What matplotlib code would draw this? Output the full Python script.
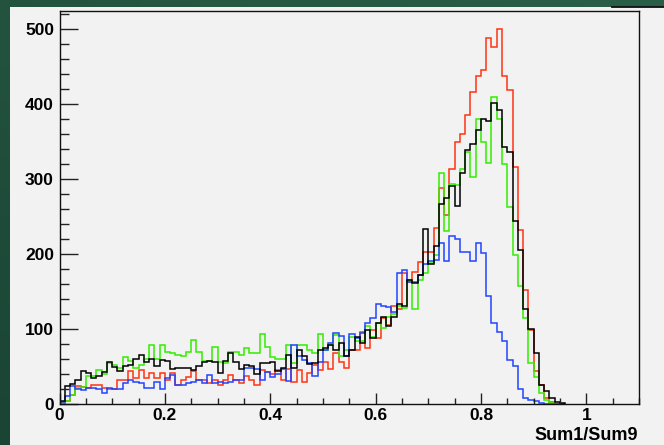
import numpy as np
import matplotlib
matplotlib.use("Agg")
import matplotlib.pyplot as plt
from matplotlib.ticker import MultipleLocator
from matplotlib.lines import Line2D
from matplotlib.patches import Rectangle

# Histogram contents, 0.01-wide bins starting at 0
bin_width = 0.01
counts_red = [0, 4, 12, 23, 22, 21, 25, 25, 21, 20, 20, 32, 32, 43, 34, 45, 34, 41, 34, 41,
              32, 41, 25, 31, 35, 44, 32, 31, 27, 31, 25, 31, 38, 31, 27, 37, 31, 25, 45, 42,
              40, 45, 31, 46, 29, 45, 29, 41, 51, 45, 56, 46, 68, 55, 47, 72, 71, 96, 74, 98,
              87, 114, 105, 130, 126, 174, 162, 176, 189, 202, 202, 235, 288, 252, 313, 349, 360, 386, 416, 438,
              445, 488, 476, 500, 438, 419, 316, 232, 152, 98, 44, 25, 8, 2, 0, 0]
counts_green = [2, 4, 12, 21, 22, 37, 37, 45, 39, 54, 51, 47, 62, 57, 47, 51, 59, 78, 60, 78,
                69, 68, 65, 63, 69, 85, 69, 57, 57, 75, 56, 54, 69, 69, 65, 74, 68, 68, 93, 76,
                62, 60, 59, 78, 54, 78, 78, 71, 68, 93, 71, 78, 92, 63, 71, 89, 83, 84, 103, 89,
                107, 101, 116, 120, 130, 127, 165, 126, 165, 175, 188, 199, 308, 231, 293, 292, 313, 336, 302, 380,
                350, 321, 409, 380, 320, 262, 199, 157, 114, 54, 36, 14, 5, 1, 0, 0]
counts_blue = [2, 10, 23, 20, 18, 21, 21, 19, 14, 21, 20, 19, 27, 32, 29, 28, 21, 21, 29, 20,
               34, 38, 25, 25, 27, 29, 31, 28, 38, 27, 29, 28, 29, 32, 31, 47, 48, 46, 31, 42,
               36, 39, 46, 30, 78, 63, 58, 54, 37, 55, 71, 81, 94, 90, 63, 93, 88, 94, 107, 114,
               133, 130, 129, 122, 175, 179, 162, 162, 172, 187, 191, 192, 214, 190, 224, 220, 202, 203, 191, 214,
               201, 143, 108, 96, 84, 58, 50, 20, 8, 5, 4, 1, 0, 0, 0, 0]
counts_black = [4, 23, 26, 31, 43, 41, 34, 37, 42, 55, 49, 43, 50, 52, 60, 65, 56, 59, 50, 58,
                57, 46, 47, 47, 47, 45, 50, 56, 57, 56, 41, 57, 67, 56, 46, 51, 50, 39, 54, 54,
                56, 44, 48, 65, 48, 71, 63, 53, 54, 71, 74, 78, 71, 81, 63, 72, 89, 81, 98, 88,
                108, 115, 103, 115, 133, 130, 165, 161, 171, 233, 186, 211, 267, 274, 290, 264, 308, 338, 346, 366,
                380, 378, 402, 392, 343, 336, 244, 205, 126, 99, 67, 25, 17, 7, 2, 1]

x_ticks = [0, 0.2, 0.4, 0.6, 0.8, 1.0]
x_tick_labels = ["0", "0.2", "0.4", "0.6", "0.8", "1"]
y_ticks = [0, 100, 200, 300, 400, 500]
x_title = "Sum1/Sum9"

W, H = 664, 445
fig = plt.figure(figsize=(W / 100, H / 100), dpi=100)

# slide background: dark green gradient
bg = fig.add_axes([0, 0, 1, 1], zorder=-10)
gy, gx = np.mgrid[0:1:200j, 0:1:200j]
top = np.array([0x2b, 0x60, 0x48]) / 255
bottom = np.array([0x1a, 0x44, 0x34]) / 255
shade = (0.55 * gy + 0.45 * (1 - gx))[..., None]
img = top * (1 - shade) + bottom * shade
bg.imshow(img, extent=[0, 1, 0, 1], aspect="auto", origin="upper")
bg.set_xlim(0, 1)
bg.set_ylim(0, 1)
bg.axis("off")

# light canvas panel
panel_x0, panel_y0 = 10 / W, 0
panel_top = 1 - 7 / H
bg.add_patch(Rectangle((panel_x0, panel_y0), 1 - panel_x0, panel_top - panel_y0,
                       facecolor="#f2f2f2", edgecolor="none", zorder=2))
bg.add_line(Line2D([612 / W, 1], [panel_top, panel_top], color="#111111", lw=1.3, zorder=3))

left, right = 59.5 / W, 639 / W
bottom_ax, top_ax = 1 - 403.5 / H, 1 - 10.5 / H
ax = fig.add_axes([left, bottom_ax, right - left, top_ax - bottom_ax])
ax.set_facecolor("#f2f2f2")

n = len(counts_black)
edges = np.round(np.arange(n + 1) * bin_width, 2)

series = [
    (counts_red, "#ff3311"),
    (counts_green, "#33ee00"),
    (counts_blue, "#2244ff"),
    (counts_black, "#000000"),
]
for vals, col in series:
    ax.stairs(vals, edges, baseline=0, fill=False, color=col, lw=1.1)

ax.set_xlim(0, 1.1)
ax.set_ylim(0, 1.05 * max(counts_red))

ax.set_xticks(x_ticks)
ax.set_xticklabels(x_tick_labels)
ax.set_yticks(y_ticks)
ax.xaxis.set_minor_locator(MultipleLocator(0.05))
ax.yaxis.set_minor_locator(MultipleLocator(20))

ax.tick_params(axis="both", which="both", direction="in", color="#222222", width=1.0,
               top=False, right=False)
ax.tick_params(axis="x", which="major", length=8, pad=3)
ax.tick_params(axis="x", which="minor", length=4)
ax.tick_params(axis="y", which="major", length=13, pad=4)
ax.tick_params(axis="y", which="minor", length=6.5)

for lab in ax.get_xticklabels() + ax.get_yticklabels():
    lab.set_fontfamily("Liberation Sans")
    lab.set_fontweight("bold")
    lab.set_fontsize(12.5)

for sp in ax.spines.values():
    sp.set_color("#111111")
    sp.set_linewidth(1.0)

fig.text(637.5 / W, 1 - 436 / H, x_title, ha="right", va="center",
         fontfamily="Liberation Sans", fontweight="bold", fontsize=13)

fig.savefig("out.png", dpi=100)
